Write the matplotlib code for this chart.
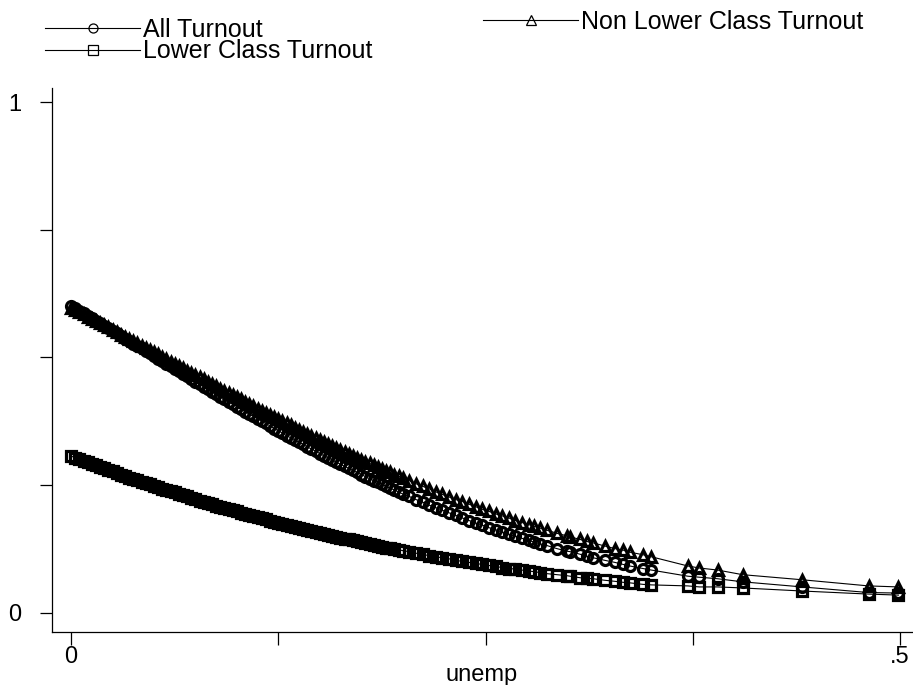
import matplotlib
matplotlib.use("Agg")
import matplotlib.pyplot as plt

plt.rcParams['font.family'] = ['Liberation Sans', 'DejaVu Sans']

# unemployment rate (x) at each observation
unemp = [
    0.0, 0.0025, 0.005, 0.0075, 0.01, 0.0125, 0.015, 0.0175, 0.02, 0.0225,
    0.025, 0.0275, 0.03, 0.0325, 0.035, 0.0375, 0.04, 0.0425, 0.045, 0.0475,
    0.05, 0.0525, 0.055, 0.0575, 0.06, 0.0625, 0.065, 0.0675, 0.07, 0.0725,
    0.075, 0.0775, 0.08, 0.0825, 0.085, 0.0875, 0.09, 0.0925, 0.095, 0.0975,
    0.10, 0.1025, 0.105, 0.1075, 0.11, 0.1125, 0.115, 0.1175, 0.12, 0.1225,
    0.125, 0.1275, 0.13, 0.1325, 0.135, 0.1375, 0.14, 0.1425, 0.145, 0.1475,
    0.15, 0.1525, 0.155, 0.1575, 0.16, 0.1625, 0.165, 0.1675, 0.17, 0.1725,
    0.175, 0.1775, 0.18, 0.1825, 0.185, 0.1875, 0.19, 0.1925, 0.195, 0.1975,
    0.20,
    0.204, 0.208, 0.212, 0.216, 0.220, 0.224, 0.228, 0.232, 0.236, 0.240,
    0.244, 0.248, 0.252, 0.256, 0.260, 0.264, 0.268, 0.272, 0.276, 0.279,
    0.283, 0.287, 0.293, 0.299, 0.301, 0.307, 0.311, 0.315, 0.322, 0.328,
    0.333, 0.337, 0.345, 0.350,
    0.372, 0.379, 0.390, 0.405, 0.441, 0.481, 0.499,
]

all_turnout = [
    0.601,
    0.596, 0.591, 0.587, 0.582, 0.577, 0.572, 0.567, 0.562,
    0.557, 0.552, 0.547, 0.542, 0.537, 0.532, 0.527, 0.522,
    0.518, 0.512, 0.508, 0.503, 0.497, 0.493, 0.487, 0.483,
    0.477, 0.473, 0.468, 0.463, 0.458, 0.453, 0.448, 0.443,
    0.438, 0.433, 0.428, 0.423, 0.418, 0.413, 0.409, 0.404,
    0.399, 0.394, 0.389, 0.385, 0.380, 0.375, 0.371, 0.366,
    0.361, 0.357, 0.352, 0.347, 0.343, 0.339, 0.334, 0.330,
    0.325, 0.321, 0.317, 0.312, 0.308, 0.304, 0.300, 0.295,
    0.291, 0.287, 0.283, 0.279, 0.275, 0.271, 0.267, 0.263,
    0.259, 0.256, 0.252, 0.248, 0.244, 0.241, 0.237, 0.233,
    0.228, 0.222, 0.217, 0.211, 0.206, 0.201, 0.196, 0.191, 0.186, 0.181,
    0.176, 0.172, 0.167, 0.163, 0.158, 0.154, 0.150, 0.146, 0.142, 0.139,
    0.135, 0.132, 0.126, 0.121, 0.120, 0.115, 0.111, 0.108, 0.103, 0.099,
    0.095, 0.092, 0.087, 0.084,
    0.072, 0.070, 0.067, 0.061, 0.051, 0.040, 0.039,
]

lower_turnout = [
    0.307,
    0.304, 0.301, 0.298, 0.295, 0.292, 0.289, 0.286, 0.283,
    0.280, 0.277, 0.274, 0.271, 0.268, 0.265, 0.263, 0.260,
    0.257, 0.254, 0.252, 0.249, 0.246, 0.243, 0.241, 0.238,
    0.236, 0.233, 0.230, 0.228, 0.225, 0.223, 0.220, 0.218,
    0.215, 0.213, 0.210, 0.208, 0.206, 0.203, 0.201, 0.199,
    0.196, 0.194, 0.192, 0.189, 0.187, 0.185, 0.183, 0.181,
    0.179, 0.177, 0.175, 0.172, 0.170, 0.168, 0.166, 0.164,
    0.162, 0.160, 0.158, 0.156, 0.155, 0.153, 0.151, 0.149,
    0.147, 0.145, 0.144, 0.142, 0.140, 0.138, 0.137, 0.135,
    0.133, 0.132, 0.130, 0.128, 0.127, 0.125, 0.124, 0.122,
    0.120, 0.117, 0.115, 0.112, 0.110, 0.108, 0.106, 0.103, 0.101, 0.099,
    0.097, 0.095, 0.093, 0.091, 0.089, 0.087, 0.086, 0.084, 0.082, 0.081,
    0.079, 0.077, 0.075, 0.073, 0.072, 0.069, 0.068, 0.067, 0.064, 0.062,
    0.060, 0.059, 0.056, 0.055,
    0.053, 0.051, 0.051, 0.049, 0.043, 0.037, 0.035,
]

nonlower_turnout = [
    0.597,
    0.593, 0.589, 0.585, 0.580, 0.576, 0.572, 0.567, 0.563,
    0.559, 0.554, 0.550, 0.545, 0.541, 0.537, 0.532, 0.528,
    0.523, 0.519, 0.514, 0.510, 0.506, 0.501, 0.497, 0.492,
    0.488, 0.483, 0.479, 0.474, 0.470, 0.466, 0.461, 0.457,
    0.453, 0.448, 0.444, 0.439, 0.435, 0.431, 0.426, 0.422,
    0.418, 0.413, 0.409, 0.405, 0.400, 0.396, 0.392, 0.388,
    0.384, 0.379, 0.375, 0.371, 0.367, 0.363, 0.359, 0.355,
    0.351, 0.347, 0.343, 0.338, 0.335, 0.331, 0.327, 0.323,
    0.319, 0.315, 0.311, 0.308, 0.304, 0.300, 0.296, 0.293,
    0.289, 0.285, 0.282, 0.278, 0.275, 0.271, 0.268, 0.264,
    0.259, 0.253, 0.248, 0.243, 0.237, 0.232, 0.227, 0.222, 0.218, 0.213,
    0.208, 0.203, 0.199, 0.194, 0.190, 0.186, 0.181, 0.177, 0.173, 0.170,
    0.166, 0.162, 0.156, 0.151, 0.149, 0.144, 0.140, 0.137, 0.131, 0.126,
    0.123, 0.119, 0.114, 0.110,
    0.092, 0.088, 0.084, 0.075, 0.065, 0.053, 0.051,
]

series_labels = ["All Turnout", "Lower Class Turnout", "Non Lower Class Turnout"]
x_ticks = [0, 0.125, 0.25, 0.375, 0.5]
x_tick_labels = ["0", "", "", "", ".5"]
y_ticks = [0, 0.25, 0.5, 0.75, 1]
y_tick_labels = ["0", "", "", "", "1"]

W, H = 913, 685
fig = plt.figure(figsize=(W / 100, H / 100), dpi=100)
ax = fig.add_axes([52 / W, (H - 632) / H, (912 - 52) / W, (632 - 88) / H])

style = dict(color="black", linewidth=0.8, markerfacecolor="none",
             markeredgecolor="black", markeredgewidth=2.3, markersize=7.2)

h_all, = ax.plot(unemp, all_turnout, marker="o", **style)
h_low, = ax.plot(unemp, lower_turnout, marker="s", **style)
h_non, = ax.plot(unemp, nonlower_turnout, marker="^", **style)

ax.set_xlim(-0.0115, 0.5072)
ax.set_ylim(-0.0372, 1.0274)

for side in ("top", "right"):
    ax.spines[side].set_visible(False)
for side in ("left", "bottom"):
    ax.spines[side].set_linewidth(0.9)

ax.set_xticks(x_ticks)
ax.set_xticklabels(x_tick_labels)
ax.set_yticks(y_ticks)
ax.set_yticklabels(y_tick_labels)
ax.tick_params(axis="both", direction="out", length=9, width=0.9,
               labelsize=17, colors="black")
ax.tick_params(axis="x", pad=1)
ax.tick_params(axis="y", pad=13)

ax.set_xlabel("unemp", fontsize=17, labelpad=-3)

leg_style = dict(frameon=False, fontsize=18, handlelength=3.8,
                 handletextpad=0.12, borderpad=0, borderaxespad=0,
                 labelspacing=-0.1, bbox_transform=fig.transFigure,
                 loc="upper left")

leg1 = fig.legend([h_all, h_low], series_labels[:2],
                  bbox_to_anchor=(45 / W, 1 - 18 / H), **leg_style)
leg2 = fig.legend([h_non], series_labels[2:],
                  bbox_to_anchor=(483 / W, 1 - 10 / H), **leg_style)
for leg in (leg1, leg2):
    for handle in leg.legend_handles:
        handle.set_markeredgewidth(0.9)
        handle.set_markersize(6.5)

fig.savefig("out.png", dpi=100)
